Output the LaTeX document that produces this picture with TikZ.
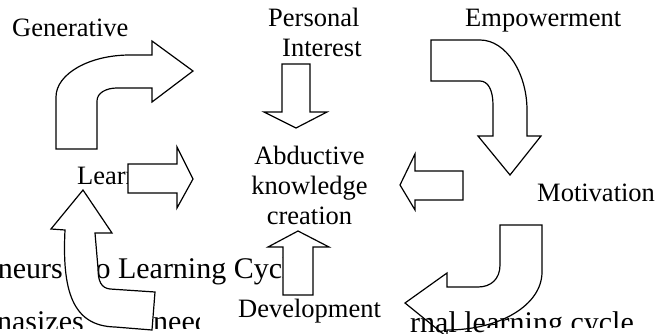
\documentclass[tikz,border=0pt]{standalone}
\usepackage{fontspec}
\setmainfont{Liberation Serif}
\newcommand\lblfont{\fontsize{26.5}{30}\selectfont}
\newcommand\bgfont{\fontsize{30}{34}\selectfont}
\begin{document}
\begin{tikzpicture}[x=1pt,y=-1pt,
  lbl/.style={inner sep=0pt,anchor=base west,font=\lblfont},
  bgtext/.style={inner sep=0pt,font=\bgfont},
  blockarrow/.style={draw=black,fill=white,line width=1.2pt,line join=miter}]
\useasboundingbox[fill=white] (0,0) rectangle (657,334);
% background document text
\node[bgtext,anchor=base east] (bgA1) at (63,279) {neurs};
\node[bgtext,anchor=base west] (bgA2) at (87,279) {to Learning Cycle};
\node[bgtext,anchor=base east] (bgB1) at (84,331) {nasizes};
\node[bgtext,anchor=base west] (bgB2) at (153,331) {need};
\fill[white] (0,329.5) rectangle (200,334);
\fill[white] (200,298) rectangle (405,334);
% labels
\node[lbl] (gen) at (12,37) {Generative};
\node[lbl] (pers) at (268,27) {Personal};
\node[lbl] (inter) at (282,57) {Interest};
\node[lbl] (emp) at (465,27) {Empowerment};
\node[lbl,anchor=base] (abd1) at (309.5,165) {Abductive};
\node[lbl,anchor=base] (abd2) at (309.5,195) {knowledge};
\node[lbl,anchor=base] (abd3) at (309.5,225) {creation};
\node[lbl] (learn) at (77,185) {Learning};
\node[lbl] (mot) at (537,202) {Motivation};
\node[lbl] (dev) at (238,318) {Development};
% arrows
\draw[blockarrow] (56,149) -- (56,97) .. controls (56,74) and (89,55) .. (130,55)
  -- (152,55) -- (152,41) -- (193,71) -- (152,102) -- (152,88) -- (117,88)
  .. controls (106,88) and (97,93) .. (97,101) -- (97,149) -- cycle;
\draw[blockarrow] (282,64) -- (310,64) -- (310,112) -- (327,112) -- (296,128)
  -- (264,112) -- (282,112) -- cycle;
\draw[blockarrow] (431,40) -- (480,40) .. controls (506,40) and (527,73) .. (527,110)
  -- (527,136) -- (541,136) -- (510,175) -- (478,136) -- (493,136) -- (493,105)
  .. controls (493,90) and (488,81) .. (480,81) -- (431,81) -- cycle;
\draw[blockarrow] (463,171) -- (463,200) -- (415,200) -- (415,210) -- (400,185)
  -- (415,154) -- (415,171) -- cycle;
\draw[blockarrow] (128,164) -- (177,164) -- (177,147) -- (193,179) -- (177,208)
  -- (177,193) -- (128,193) -- cycle;
\draw[blockarrow] (283,295) -- (283,247) -- (268,247) -- (298,231) -- (329,247)
  -- (313,247) -- (313,295) -- cycle;
\draw[blockarrow] (500,225) -- (542,225) -- (542,272) .. controls (542,305) and (500,330) .. (447,330)
  -- (447,337) -- (405,303) -- (447,273) -- (447,287) -- (478,287)
  .. controls (491,287) and (500,279) .. (500,265) -- cycle;
\draw[blockarrow] (65,230) .. controls (62,290) and (72,326) .. (115,327) -- (152,330)
  -- (155,292) -- (110,289) .. controls (101,288) and (98,281) .. (98,268) -- (95,233)
  -- (112,233) -- (83,190) -- (51,229) -- cycle;
% background text lying over the last arrow
\node[bgtext,anchor=base west] (bgB3) at (410,332) {rnal le};
\node[bgtext,anchor=base west] (bgB4) at (bgB3.base east) {arning cycle};
\fill[white] (487,328) rectangle (657,334);
\end{tikzpicture}
\end{document}
